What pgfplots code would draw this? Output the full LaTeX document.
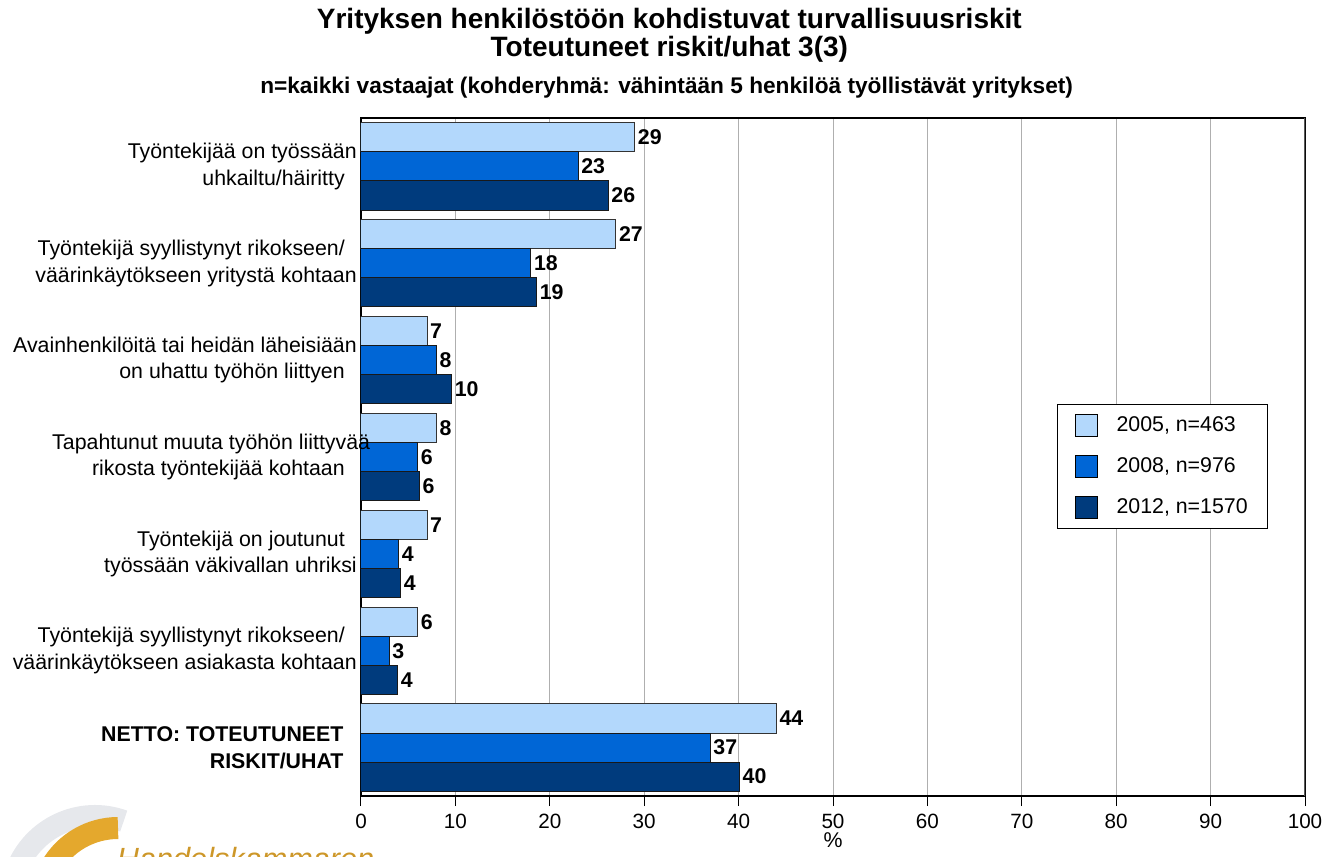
\documentclass[border=0pt]{standalone}
\usepackage{fontspec}
\setmainfont{Liberation Sans}
\usepackage{pgfplots}
\pgfplotsset{compat=1.18}
\definecolor{cLight}{RGB}{179,216,252}
\definecolor{cMid}{RGB}{0,102,214}
\definecolor{cDark}{RGB}{0,59,125}
\definecolor{cGold}{RGB}{228,168,45}
\definecolor{cLogoGray}{RGB}{230,232,236}
\definecolor{cGrid}{RGB}{175,175,175}
\begin{document}
\fontsize{16}{20}\selectfont
\begin{tikzpicture}
\useasboundingbox (0,0) rectangle (1002pt,-642.75pt);
\begin{scope}
\clip (0,0) rectangle (1002pt,-642.75pt);
\draw[line width=16.5pt, cLogoGray] (71.25pt,-675pt) ++(70:63pt) arc (70:200:63pt);
\draw[line width=16.5pt, cGold] (88.5pt,-678.75pt) ++(90:57.75pt) arc (90:200:57.75pt);
\node[anchor=north west, inner sep=0pt, text=cGold!90!black, font=\itshape\fontsize{23}{23}\selectfont] at (87.5pt,-635pt) {Handelskammaren};
\end{scope}
\node[font=\bfseries\fontsize{21}{24}\selectfont] at (502pt,-15.75pt) {Yrityksen henkilöstöön kohdistuvat turvallisuusriskit};
\node[font=\bfseries\fontsize{21}{24}\selectfont] at (502pt,-37pt) {Toteutuneet riskit/uhat 3(3)};
\node[font=\bfseries\fontsize{17}{20}\selectfont] at (500pt,-65.5pt) {n=kaikki vastaajat (kohderyhmä: vähintään 5 henkilöä työllistävät yritykset)};
\begin{axis}[
  at={(270.75pt,-597pt)}, anchor=south west,
  scale only axis, width=708pt, height=508.5pt,
  xbar, bar width=0.3,
  xmin=0, xmax=100, ymin=-0.5, ymax=6.5,
  xtick={0,10,...,100}, ytick={0,...,6},
  yticklabels={
    {\textbf{NETTO: TOTEUTUNEET}\hspace*{10pt}\\\textbf{RISKIT/UHAT}\hspace*{10pt}},
    {Työntekijä syyllistynyt rikokseen/\hspace*{9pt}\\väärinkäytökseen asiakasta kohtaan},
    {Työntekijä on joutunut\hspace*{9pt}\\työssään väkivallan uhriksi},
    {},
    {Avainhenkilöitä tai heidän läheisiään\\on uhattu työhön liittyen\hspace*{9pt}},
    {Työntekijä syyllistynyt rikokseen/\hspace*{9pt}\\väärinkäytökseen yritystä kohtaan},
    {Työntekijää on työssään\\uhkailtu/häiritty\hspace*{9pt}}},
  yticklabel style={align=right, anchor=east, inner sep=0pt, xshift=4.5pt, font=\fontsize{16}{20}\selectfont},
  xticklabel style={font=\fontsize{15.5}{18}\selectfont, yshift=-0.5pt},
  /pgf/number format/assume math mode=true,
  xmajorgrids, grid style={cGrid, line width=0.75pt},
  tick align=outside, major tick length=7.5pt,
  xtick pos=left, ytick pos=left,
  y tick style={draw=none},
  x tick style={black, line width=0.75pt},
  axis line style={black, line width=1.1pt},
  xlabel={\%}, xlabel style={font=\fontsize{16}{18}\selectfont, yshift=8pt},
  point meta=x,
  nodes near coords={\pgfmathprintnumber[fixed,precision=0]{\pgfplotspointmeta}},
  nodes near coords style={font=\bfseries\fontsize{16}{18}\selectfont, anchor=west, inner sep=2pt},
  legend style={at={(0.961,0.578)}, anchor=north east, draw=black, line width=0.75pt,
    font=\fontsize{16}{18}\selectfont, row sep=13pt, inner xsep=13pt, inner ysep=7pt,
    /tikz/every odd column/.append style={column sep=12pt}},
  legend cell align=left,
]
\addplot[fill=cLight, draw=black!80, line width=0.75pt, bar shift=0.3,
  legend image code/.code={\draw[fill=cLight, draw=black, line width=0.75pt] (0pt,-8.25pt) rectangle (16.5pt,8.25pt);}]
  coordinates {(29,6) (27,5) (7,4) (8,3) (7,2) (6,1) (44,0)};
\addplot[fill=cMid, draw=black!90, line width=0.75pt, bar shift=0,
  legend image code/.code={\draw[fill=cMid, draw=black, line width=0.75pt] (0pt,-8.25pt) rectangle (16.5pt,8.25pt);}]
  coordinates {(23,6) (18,5) (8,4) (6,3) (4,2) (3,1) (37,0)};
\addplot[fill=cDark, draw=black!90, line width=0.75pt, bar shift=-0.3,
  legend image code/.code={\draw[fill=cDark, draw=black, line width=0.75pt] (0pt,-8.25pt) rectangle (16.5pt,8.25pt);}]
  coordinates {(26.2,6) (18.6,5) (9.6,4) (6.2,3) (4.2,2) (3.9,1) (40.1,0)};
\legend{{2005, n=463},{2008, n=976},{2012, n=1570}}
\draw[color={rgb,255:red,90;green,90;blue,90}, line width=1.5pt] (rel axis cs:1,0) -- (rel axis cs:1,1);
\coordinate (cat3) at (axis cs:0,3);
\end{axis}
\node[align=right, anchor=east, inner sep=0pt, xshift=-3pt, font=\fontsize{16}{20}\selectfont] at (cat3) {Tapahtunut muuta työhön liittyvää\hspace*{-10pt}\\rikosta työntekijää kohtaan\hspace*{9pt}};
\end{tikzpicture}
\end{document}
